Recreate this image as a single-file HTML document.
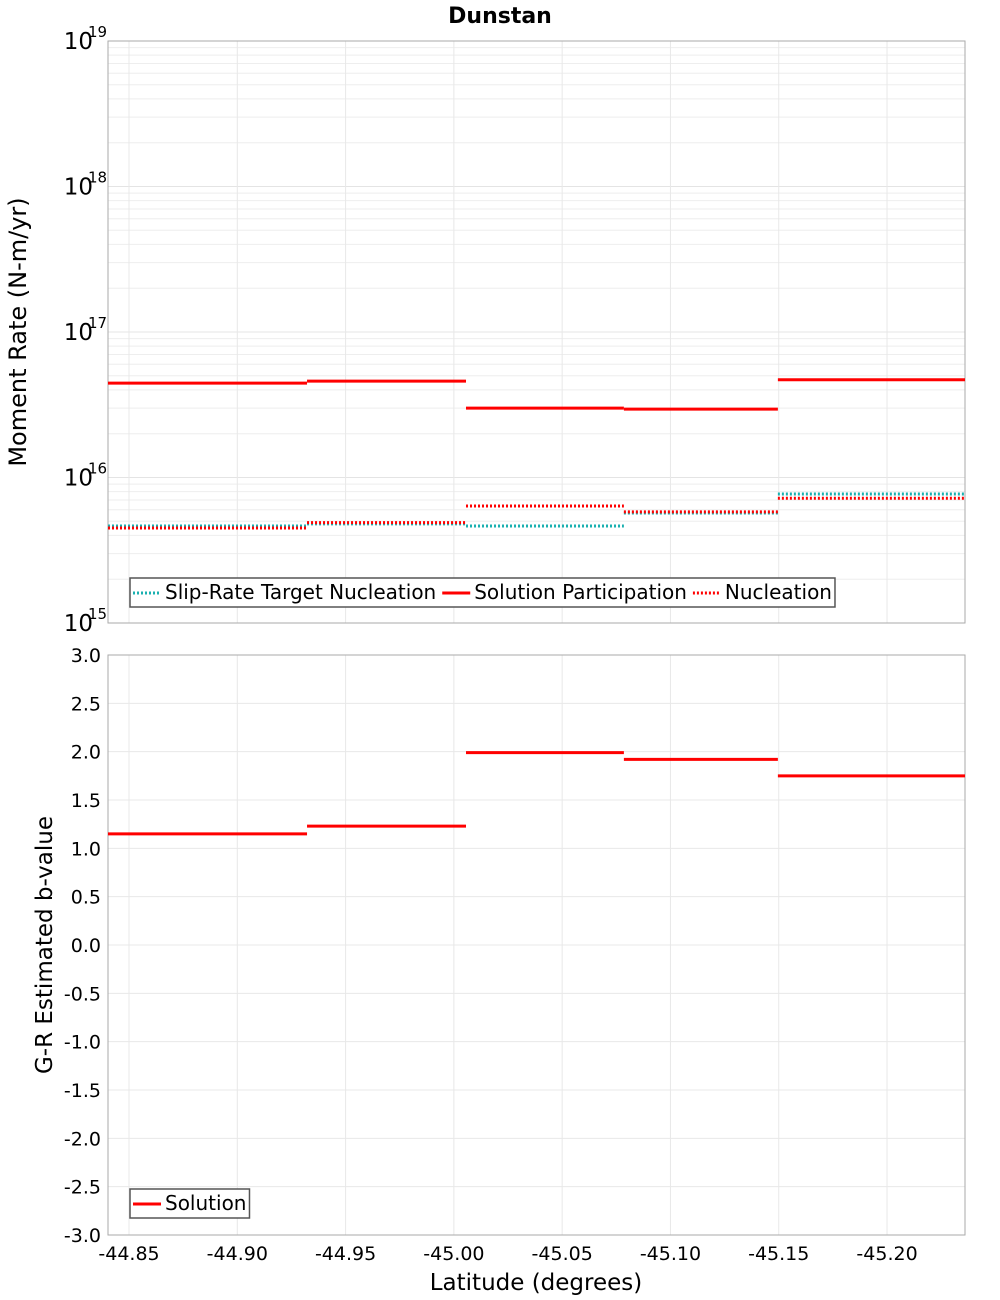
<!DOCTYPE html>
<html><head><meta charset="utf-8"><style>
body{margin:0;background:#fff;}
svg{display:block;font-family:"DejaVu Sans","Liberation Sans",sans-serif;}
</style></head><body>
<svg id="c" width="1000" height="1300"></svg>
<script>
const bounds=[-44.8403,-44.9322,-45.0056,-45.0785,-45.1496,-45.236];
const slipTarget=[4.64e15,4.8e15,4.64e15,5.7e15,7.7e15];
const solutionPart=[4.45e16,4.6e16,3.0e16,2.95e16,4.7e16];
const nucleation=[4.5e15,4.9e15,6.37e15,5.8e15,7.2e15];
const bValues=[1.15,1.23,1.99,1.92,1.75];
const xTicks=[-44.85,-44.90,-44.95,-45.00,-45.05,-45.10,-45.15,-45.20];
const bTicks=[3,2.5,2,1.5,1,0.5,0,-0.5,-1,-1.5,-2,-2.5,-3];
const decades=[15,16,17,18,19];

const NS="http://www.w3.org/2000/svg";
const svg=document.getElementById('c');
function el(t,a,p){const e=document.createElementNS(NS,t);for(const k in a)e.setAttribute(k,a[k]);(p||svg).appendChild(e);return e;}
const L=108,R=965,T1=41,B1=623,T2=655,B2=1235;
const x=v=>L+(v-bounds[0])/(bounds[5]-bounds[0])*(R-L);
const yLog=v=>B1-(Math.log10(v)-15)/4*(B1-T1);
const yB=v=>B2-(v+3)/6*(B2-T2);

let t=el('text',{x:500,y:23,'text-anchor':'middle','font-size':22,'font-weight':'bold'});t.textContent='Dunstan';


const g1=el('g',{});

for(let d=15;d<19;d++)for(let m=2;m<=9;m++){const yy=yLog(m*Math.pow(10,d));el('line',{x1:L,x2:R,y1:yy,y2:yy,stroke:'#eee','stroke-width':1},g1);}
decades.forEach(d=>{const yy=yLog(Math.pow(10,d));el('line',{x1:L,x2:R,y1:yy,y2:yy,stroke:'#e4e4e4'},g1);});
xTicks.forEach(v=>{el('line',{x1:x(v),x2:x(v),y1:T1,y2:B1,stroke:'#e8e8e8'},g1);});
const g2=el('g',{});

bTicks.forEach(v=>el('line',{x1:L,x2:R,y1:yB(v),y2:yB(v),stroke:'#e8e8e8'},g2));
xTicks.forEach(v=>el('line',{x1:x(v),x2:x(v),y1:T2,y2:B2,stroke:'#e8e8e8'},g2));

let f=el('rect',{x:L,y:T1,width:R-L,height:B1-T1,fill:'none',stroke:'#aaa'});

f=el('rect',{x:L,y:T2,width:R-L,height:B2-T2,fill:'none',stroke:'#aaa'});


decades.forEach(d=>{const yy=yLog(Math.pow(10,d));
 const tx=el('text',{x:93,y:yy+8,'text-anchor':'end','font-size':23});tx.textContent='10';
 
 const s=el('text',{x:88,y:yy-4,'font-size':15});s.textContent=String(d);
 });
bTicks.forEach(v=>{const tx=el('text',{x:101,y:yB(v)+7,'text-anchor':'end','font-size':19});tx.textContent=v.toFixed(1);
 });
xTicks.forEach(v=>{const tx=el('text',{x:x(v),y:1260,'text-anchor':'middle','font-size':19});tx.textContent=v.toFixed(2);
 });

t=el('text',{x:536,y:1290,'text-anchor':'middle','font-size':23});t.textContent='Latitude (degrees)';

t=el('text',{x:0,y:0,'text-anchor':'middle','font-size':24,transform:'translate(26,332) rotate(-90)'});t.textContent='Moment Rate (N-m/yr)';

t=el('text',{x:0,y:0,'text-anchor':'middle','font-size':23,transform:'translate(52,945) rotate(-90)'});t.textContent='G-R Estimated b-value';


function series(vals,yf,color,dash,name){
 const g=el('g',{});
 vals.forEach((v,i)=>{const a={x1:x(bounds[i]),x2:x(bounds[i+1]),y1:yf(v),y2:yf(v),stroke:color,'stroke-width':3};
  if(dash)a['stroke-dasharray']='2,2';const ln=el('line',a,g);
  });
}
series(slipTarget,yLog,'#1ab0b0',true,'slip-rate-target-nucleation');
series(solutionPart,yLog,'#ff0000',false,'solution-participation');
series(nucleation,yLog,'#ff0000',true,'nucleation');
series(bValues,yB,'#ff0000',false,'solution-b-value');

function legend(xx,yy,items,name){
 const g=el('g',{});
 const r=el('rect',{x:xx,y:yy,width:10,height:29,fill:'#fff',stroke:'#555','stroke-width':1.5},g);
 let cx=xx+3;
 items.forEach(it=>{const a={x1:cx,x2:cx+28,y1:yy+15,y2:yy+15,stroke:it[1],'stroke-width':3};if(it[2])a['stroke-dasharray']='2,2';el('line',a,g);
  const tx=el('text',{x:cx+32,y:yy+21,'font-size':20},g);tx.textContent=it[0];
  
  cx+=32+tx.getComputedTextLength()+6;});
 r.setAttribute('width',cx-xx-3);
}
legend(130,578,[['Slip-Rate Target Nucleation','#1ab0b0',true],['Solution Participation','#ff0000',false],['Nucleation','#ff0000',true]],'top-legend');
legend(130,1189,[['Solution','#ff0000',false]],'bottom-legend');
</script>
</body></html>
